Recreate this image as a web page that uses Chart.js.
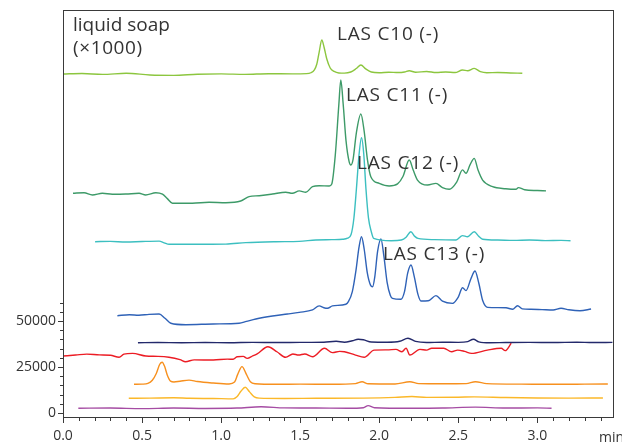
<!DOCTYPE html>
<html>
<head>
<meta charset="utf-8">
<script src="https://cdn.jsdelivr.net/npm/chart.js@4/dist/chart.umd.min.js"></script>
<style>
  html, body { margin: 0; padding: 0; background: #fff; }
  #wrap { width: 622px; height: 443px; }
</style>
</head>
<body>
<div id="wrap"><canvas id="chart" width="622" height="443"></canvas></div>
<script>
// Stacked chromatograms, liquid soap. Each trace is [time (min), signal].

const c10 = [[0,184200],[0.12,184500],[0.25,184000],[0.40,184600],[0.55,183700],[0.70,183500],[0.85,184100],[1.00,184300],[1.15,184000],[1.30,184400],[1.45,184300],[1.54,184400],[1.568,184900],[1.590,186500],[1.605,189500],[1.620,196000],[1.637,202700],[1.652,198500],[1.668,192500],[1.690,187500],[1.715,185600],[1.745,184800],[1.780,184700],[1.820,185300],[1.855,187200],[1.884,189100],[1.915,187000],[1.950,185300],[2.000,184900],[2.060,185200],[2.120,185000],[2.160,185300],[2.190,186000],[2.230,185200],[2.300,185600],[2.360,185000],[2.420,185300],[2.480,185000],[2.527,186400],[2.560,186000],[2.601,187300],[2.640,185500],[2.680,184900],[2.750,185000],[2.830,184800],[2.905,184600]];

const c11 = [[0.063,119400],[0.133,119700],[0.186,118500],[0.249,119400],[0.312,118900],[0.397,119000],[0.481,119400],[0.523,118500],[0.587,119700],[0.629,118900],[0.660,116500],[0.692,114000],[0.818,114000],[0.924,114500],[1.030,114300],[1.124,115200],[1.177,117600],[1.241,118100],[1.325,119000],[1.409,120000],[1.451,119400],[1.494,120700],[1.536,120000],[1.578,123000],[1.620,123500],[1.684,123400],[1.700,124500],[1.722,140000],[1.745,168000],[1.757,181000],[1.772,168000],[1.790,148000],[1.810,136500],[1.821,134800],[1.835,138000],[1.855,152000],[1.884,162500],[1.905,153000],[1.925,138000],[1.947,128400],[2.000,124800],[2.063,123400],[2.116,124500],[2.150,128500],[2.190,137500],[2.215,132000],[2.242,126600],[2.306,123900],[2.359,124800],[2.400,122500],[2.443,121600],[2.490,125500],[2.527,132100],[2.549,130300],[2.575,135000],[2.601,138400],[2.625,132000],[2.654,126600],[2.717,123000],[2.800,121900],[2.865,121600],[2.880,122500],[2.920,121300],[3.000,120900],[3.055,120700]];

const c12 = [[0.203,93100],[0.300,93300],[0.397,92900],[0.500,93200],[0.608,93400],[0.640,92500],[0.671,91700],[0.818,91700],[1.030,91800],[1.156,92600],[1.346,93100],[1.494,93300],[1.599,94000],[1.700,94200],[1.768,94400],[1.800,95000],[1.822,97000],[1.840,106000],[1.856,122000],[1.872,140000],[1.888,149600],[1.902,141000],[1.916,122000],[1.932,106000],[1.950,98500],[1.965,94900],[2.076,93600],[2.140,94000],[2.170,95500],[2.200,98500],[2.225,96000],[2.245,94900],[2.350,94200],[2.486,94000],[2.527,96400],[2.558,95800],[2.601,98500],[2.630,96000],[2.654,94400],[2.750,94000],[2.850,93800],[2.950,94000],[3.050,93700],[3.150,93800],[3.210,93600]];

const c13 = [[0.344,52900],[0.420,53400],[0.480,53100],[0.544,53600],[0.608,53800],[0.645,51500],[0.682,48800],[0.777,48000],[0.950,48400],[1.114,48800],[1.160,49800],[1.220,51100],[1.325,52700],[1.420,53800],[1.494,54700],[1.578,56000],[1.620,58200],[1.650,57200],[1.673,56900],[1.704,58200],[1.789,59100],[1.805,60500],[1.830,66000],[1.853,77500],[1.872,90000],[1.888,95800],[1.905,89000],[1.925,76000],[1.945,69500],[1.958,68600],[1.972,74000],[1.990,88000],[2.011,94600],[2.030,85000],[2.050,71000],[2.070,64000],[2.084,62300],[2.137,61800],[2.160,66000],[2.180,76000],[2.201,80400],[2.222,74000],[2.245,64500],[2.264,60900],[2.310,61000],[2.359,63800],[2.400,60800],[2.464,59600],[2.500,63000],[2.527,68100],[2.549,66500],[2.580,73000],[2.606,77200],[2.630,70500],[2.655,61000],[2.686,57400],[2.750,57300],[2.802,57200],[2.844,56400],[2.875,58300],[2.905,56600],[2.960,56400],[3.030,56200],[3.100,56000],[3.150,56900],[3.200,56100],[3.270,55600],[3.340,56500]];

const navy = [[0.474,38200],[0.600,38300],[0.750,38200],[0.900,38300],[1.050,38200],[1.200,38400],[1.350,38300],[1.500,38400],[1.650,38500],[1.728,39000],[1.780,38500],[1.830,39300],[1.867,40100],[1.900,39800],[1.950,38600],[2.050,38500],[2.130,39000],[2.182,40600],[2.230,38900],[2.300,38300],[2.400,38500],[2.500,38400],[2.560,38800],[2.596,40100],[2.630,38700],[2.700,38200],[2.800,38300],[2.950,38400],[3.100,38300],[3.250,38500],[3.350,38300],[3.475,38400]];

const red = [[0,31000],[0.080,31500],[0.150,32000],[0.230,31600],[0.300,31400],[0.355,30300],[0.385,32000],[0.440,32400],[0.524,31000],[0.600,30800],[0.670,30300],[0.740,29000],[0.775,27900],[0.830,28900],[0.951,28800],[1.040,29300],[1.076,29200],[1.101,30600],[1.140,30800],[1.165,29700],[1.200,31000],[1.228,32100],[1.296,36000],[1.353,33300],[1.408,30300],[1.454,32100],[1.490,31500],[1.529,32100],[1.579,30600],[1.654,35200],[1.704,32800],[1.750,33500],[1.780,33300],[1.850,31500],[1.905,30300],[1.968,34200],[2.050,34300],[2.106,34600],[2.144,33300],[2.170,35200],[2.194,31500],[2.257,34600],[2.300,34200],[2.332,35200],[2.408,35200],[2.458,33300],[2.496,34200],[2.540,33500],[2.584,32400],[2.684,34200],[2.772,35200],[2.797,33900],[2.835,37900]];

const orange = [[0.449,15600],[0.500,15700],[0.537,16100],[0.565,17800],[0.590,21500],[0.612,26500],[0.627,27600],[0.642,25500],[0.660,20500],[0.680,17300],[0.702,16900],[0.740,17300],[0.797,17900],[0.850,17100],[0.950,16300],[1.050,15800],[1.085,16800],[1.105,21000],[1.132,25200],[1.160,21000],[1.185,17000],[1.215,15900],[1.353,15600],[1.500,15700],[1.700,15600],[1.850,16000],[1.892,17000],[1.930,15900],[2.100,15800],[2.194,17000],[2.250,16000],[2.400,15900],[2.550,16000],[2.608,17000],[2.680,16000],[2.900,15700],[3.100,15600],[3.300,15700],[3.446,15800]];

const yellow = [[0.416,8000],[0.550,8100],[0.700,8300],[0.800,8000],[0.950,7900],[1.076,7700],[1.100,8800],[1.125,11800],[1.152,14000],[1.180,11500],[1.210,8800],[1.240,8100],[1.400,7900],[1.600,8000],[1.900,8100],[2.100,8500],[2.207,9000],[2.300,8500],[2.500,8600],[2.600,8800],[2.800,8400],[3.000,8200],[3.200,8100],[3.415,8200]];

const purple = [[0.097,2600],[0.300,2700],[0.500,2400],[0.700,2700],[0.900,2500],[1.100,2700],[1.253,3400],[1.400,2800],[1.600,2700],[1.800,2600],[1.900,2900],[1.930,4000],[1.970,2900],[2.200,2600],[2.400,2700],[2.608,3200],[2.800,2700],[3.000,2800],[3.090,2600]];

const X_LABELS = [0, 0.5, 1.0, 1.5, 2.0, 2.5, 3.0];
const Y_LABELS = [0, 25000, 50000];

const TRACES = [
  { data: c10,    color: '#8cc63f' },
  { data: c11,    color: '#3d9a68' },
  { data: c12,    color: '#3cbfc0' },
  { data: c13,    color: '#2f62b7' },
  { data: navy,   color: '#23296b' },
  { data: red,    color: '#ec1c24' },
  { data: orange, color: '#f7901e' },
  { data: yellow, color: '#fbb829' },
  { data: purple, color: '#a54ca3' },
];

const TEXT_COLOR = '#333';
const AXIS_COLOR = '#3a3a3a';
const FONT = '"Open Sans", sans-serif';

// text labels, placed in pixels: [text, left, baseline, letter spacing]
const NOTES = [
  ['liquid soap',  73, 31, 0],
  ['(\u00d71000)', 73, 54, 0.6],
  ['LAS C10 (-)', 337, 40, 0.8],
  ['LAS C11 (-)', 346, 101, 0.8],
  ['LAS C12 (-)', 357, 169, 0.8],
  ['LAS C13 (-)', 383, 260, 0.8],
];

// ── Frame, ticks and text ─────────────────────────────────────────────

const overlay = {
  id: 'overlay',
  afterDraw(chart) {
    const { ctx, chartArea: a, scales: { x, y } } = chart;
    ctx.save();
    ctx.strokeStyle = AXIS_COLOR;
    ctx.lineWidth = 1;
    ctx.strokeRect(a.left + 0.5, a.top + 0.5, a.right - a.left - 1, a.bottom - a.top - 1);

    ctx.beginPath();
    for (let i = 0; i <= 34; i++) {
      const px = Math.round(x.getPixelForValue(i / 10)) + 0.5;
      const len = i % 5 === 0 ? 5 : 3;
      ctx.moveTo(px, a.bottom);
      ctx.lineTo(px, a.bottom + len);
    }
    for (let v = 0; v <= 60000; v += 5000) {
      const py = Math.round(y.getPixelForValue(v)) + 0.5;
      const len = v % 25000 === 0 ? 5 : 3;
      ctx.moveTo(a.left, py);
      ctx.lineTo(a.left - len, py);
    }
    ctx.stroke();

    ctx.fillStyle = TEXT_COLOR;
    ctx.font = '19px ' + FONT;
    ctx.textBaseline = 'alphabetic';
    NOTES.forEach(([t, lx, by, sp]) => {
      ctx.letterSpacing = sp + 'px';
      ctx.fillText(t, lx, by);
    });
    ctx.letterSpacing = '0px';

    ctx.font = '14px ' + FONT;
    ctx.textBaseline = 'middle';
    ctx.fillText('min', 599, 438);
    ctx.restore();
  }
};

new Chart(document.getElementById('chart'), {
  type: 'line',
  data: {
    datasets: TRACES.map(tr => ({
      data: tr.data.map(([t, v]) => ({ x: t, y: v })),
      borderColor: tr.color,
      borderWidth: 1.4,
      pointRadius: 0,
      fill: false,
      cubicInterpolationMode: 'monotone',
    }))
  },
  options: {
    responsive: false,
    animation: false,
    layout: { padding: { top: 10, right: 8, left: 0, bottom: 0 } },
    plugins: { legend: { display: false }, tooltip: { enabled: false } },
    scales: {
      x: {
        type: 'linear', min: 0, max: 3.485,
        border: { display: false },
        grid: { display: false, drawTicks: false },
        afterBuildTicks: s => { s.ticks = X_LABELS.map(v => ({ value: v })); },
        afterFit: s => { s.height = 25; s.paddingLeft = 0; s.paddingRight = 0; },
        ticks: {
          autoSkip: false, maxRotation: 0, padding: 10, color: TEXT_COLOR,
          font: { family: FONT, size: 14 },
          callback: v => Number(v).toFixed(1),
        },
      },
      y: {
        type: 'linear', min: -2700, max: 219000,
        border: { display: false },
        grid: { display: false, drawTicks: false },
        afterBuildTicks: s => { s.ticks = Y_LABELS.map(v => ({ value: v })); },
        afterFit: s => { s.width = 63; s.paddingTop = 0; s.paddingBottom = 0; },
        ticks: {
          autoSkip: false, padding: 7, color: TEXT_COLOR,
          font: { family: FONT, size: 14 },
          callback: v => String(v),
        },
      },
    },
  },
  plugins: [overlay],
});
</script>
</body>
</html>
